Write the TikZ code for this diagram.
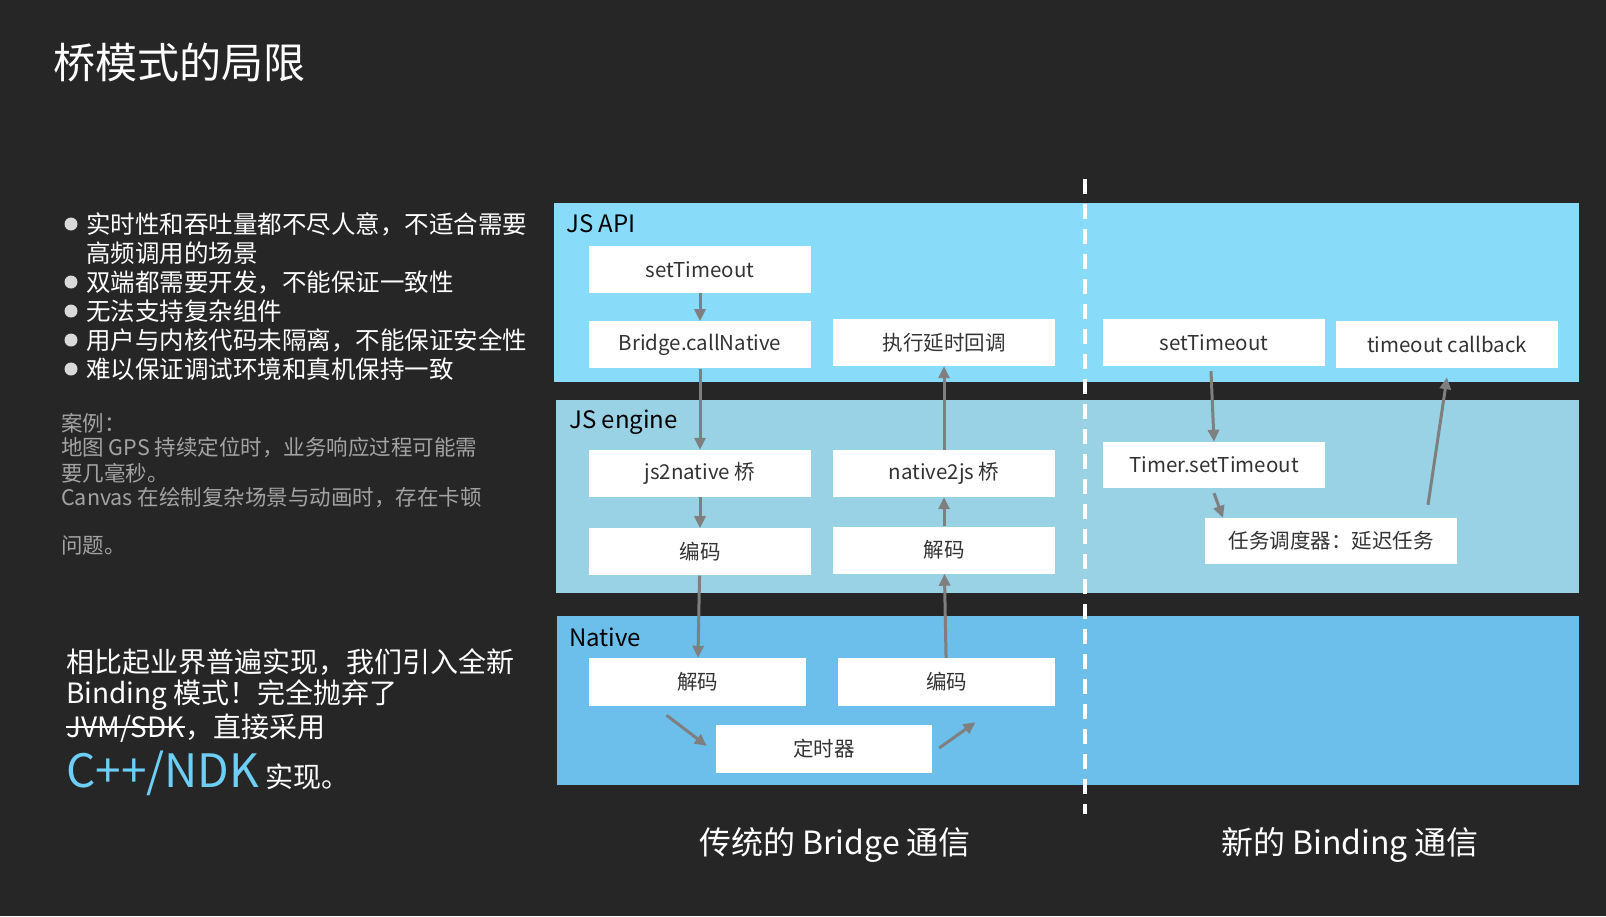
\documentclass[tikz,border=0pt]{standalone}
\usepackage{fontspec}
\setmainfont{Noto Sans CJK SC}
\usetikzlibrary{arrows.meta,positioning,calc}
\definecolor{Back}{HTML}{262626}
\definecolor{ApiBlue}{HTML}{89DCF9}
\definecolor{EngBlue}{HTML}{98D2E4}
\definecolor{NatBlue}{HTML}{6BBFEA}
\definecolor{BoxInk}{HTML}{333333}
\definecolor{Arrow}{HTML}{7F7F7F}
\definecolor{Case}{HTML}{A3A3A3}
\definecolor{Dot}{HTML}{D9D9D9}
\definecolor{Ndk}{HTML}{6DCFF6}
\newcommand\strk[1]{\setbox0\hbox{#1}\rlap{\rule[0.34em]{\wd0}{1.8pt}}\box0}
\tikzset{
  box/.style={fill=white,minimum width=222pt,minimum height=47pt,inner sep=0pt,font=\fontsize{20.5}{24}\selectfont,text=BoxInk},
  arr/.style={-{Triangle[length=12pt,width=11pt]},line width=3pt,draw=Arrow},
  lane/.style={anchor=west,inner sep=0pt,font=\fontsize{24}{28}\selectfont,text=black},
  txt/.style={anchor=west,inner sep=0pt,text=white},
}

\begin{document}
\begin{tikzpicture}[x=1pt,y=-1pt,
 pt/.style={txt,font=\fontsize{24.5}{29}\selectfont},
 note/.style={txt,text=Case,font=\fontsize{21.5}{25}\selectfont},
 say/.style={txt,font=\fontsize{28}{33}\selectfont}]
\fill[Back] (0,0) rectangle (1606,916);
\node[txt,font=\fontsize{42}{48}\selectfont] (ttl) at (53,63) {桥模式的局限};
% limits
\node[pt] (p1) at (86,224) {实时性和吞吐量都不尽人意，不适合需要};
\node[pt] (p1b) at (86,253) {高频调用的场景};
\node[pt] (p2) at (86,282) {双端都需要开发，不能保证一致性};
\node[pt] (p3) at (86,311) {无法支持复杂组件};
\node[pt] (p4) at (86,340) {用户与内核代码未隔离，不能保证安全性};
\node[pt] (p5) at (86,369) {难以保证调试环境和真机保持一致};
\foreach \y in {224,282,311,340,369} \fill[Dot] (71,\y) circle (6.5pt);
% case
\node[note] (c1) at (61,423) {案例：};
\node[note] (c2) at (61,448) {地图 GPS 持续定位时，业务响应过程可能需};
\node[note] (c3) at (61,473) {要几毫秒。};
\node[note] (c4) at (61,498) {Canvas 在绘制复杂场景与动画时，存在卡顿};
\node[note] (c5) at (61,545) {问题。};
% binding
\node[say] (s1) at (66,662) {相比起业界普遍实现，我们引入全新};
\node[say] (s2) at (66,695) {Binding 模式！完全抛弃了};
\node[say] (s3) at (66,728) {\strk{JVM/SDK}，直接采用};
\node[say,anchor=base west] (s4) at (66,787) {{\fontsize{46}{50}\selectfont\color{Ndk}C++/NDK} 实现。};
% lanes
\fill[ApiBlue] (554,203) rectangle (1579,382);
\fill[EngBlue] (556,400) rectangle (1579,593);
\fill[NatBlue] (557,616) rectangle (1579,785);
\node[lane] (lapi) at (566,224) {JS API};
\node[lane] (leng) at (569,422) {JS engine};
\node[lane] (lnat) at (569,637) {Native};
\draw[white,line width=3.5pt,dash pattern=on 15pt off 10pt] (1085,179) -- (1085,814);
% bridge
\node[box] (jsset) at (700,269.5) {setTimeout};
\node[box,below=28pt of jsset] (jscall) {Bridge.callNative};
\node[box] (exec) at (944,342.5) {执行延时回调};
\node[box] (j2n) at (700,473.5) {js2native 桥};
\node[box] (n2j) at (944,473.5) {native2js 桥};
\node[box,below=31pt of j2n] (enc) {编码};
\node[box] (dec) at (944,550) {解码};
\node[box,minimum width=217pt,minimum height=48pt] (ndec) at (697.5,682) {解码};
\node[box,minimum width=217pt,minimum height=48pt] (nenc) at (946.5,682) {编码};
\node[box,minimum width=216pt,minimum height=48pt] (timer) at (824,749) {定时器};
\draw[arr] (jsset) -- (jscall);
\draw[arr] (jscall) -- (j2n);
\draw[arr] (j2n) -- (enc);
\draw[arr] (enc) -- (ndec);
\draw[arr] (nenc) -- (dec);
\draw[arr] (dec) -- (n2j);
\draw[arr] (n2j) -- (exec);
\draw[arr] ([xshift=-31pt,yshift=-9pt]ndec.south) -- ([xshift=-9pt,yshift=3pt]timer.west);
\draw[arr] ([xshift=7pt,yshift=1pt]timer.east) -- ([xshift=29pt,yshift=-16pt]nenc.south);
% binding
\node[box] (bset) at (1214,342.5) {setTimeout};
\node[box] (bcb) at (1447,344.5) {timeout callback};
\node[box,minimum height=46pt] (btimer) at (1214,465) {Timer.setTimeout};
\node[box,minimum width=252pt,minimum height=46pt] (bsched) at (1331,541) {任务调度器：延迟任务};
\draw[arr] ([xshift=-3pt,yshift=-5pt]bset.south) -- (btimer.north);
\draw[arr] ([yshift=-5pt]btimer.south) -- ([xshift=-108pt]bsched.north);
\draw[arr] ([xshift=97pt,yshift=13pt]bsched.north) -- ([yshift=-9pt]bcb.south);
% captions
\node[txt,anchor=center,font=\fontsize{32}{36}\selectfont] (cap1) at (835,845) {传统的 Bridge 通信};
\node[txt,anchor=center,font=\fontsize{32}{36}\selectfont] (cap2) at (1350,845) {新的 Binding 通信};
\end{tikzpicture}
\end{document}
